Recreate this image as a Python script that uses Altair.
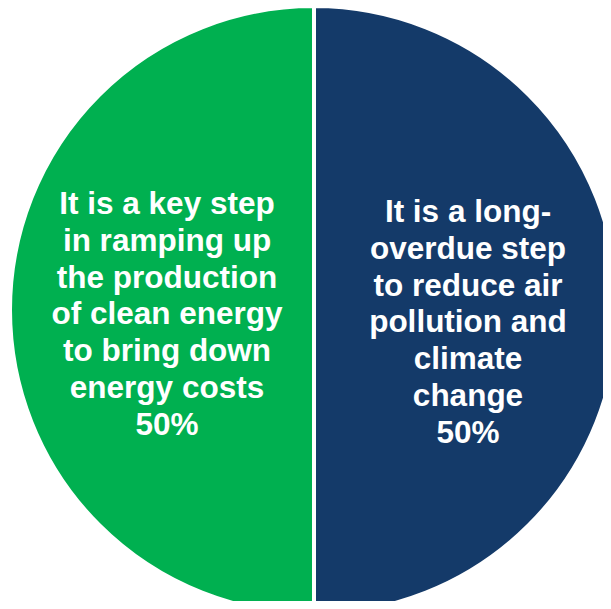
import altair as alt
import pandas as pd

labels = [
    "It is a long-\noverdue step\nto reduce air\npollution and\nclimate\nchange\n50%",
    "It is a key step\nin ramping up\nthe production\nof clean energy\nto bring down\nenergy costs\n50%",
]
categories = ["air pollution", "clean energy"]
values = [50, 50]
colors = ["#143A69", "#00B050"]

df = pd.DataFrame({"cat": categories, "value": values, "label": labels, "ord": [0, 1]})

CX, CY, R = 306, 302, 304

base = alt.Chart(df).encode(
    theta=alt.Theta("value:Q", stack=True),
    order=alt.Order("ord:Q"),
    x=alt.value(CX),
    y=alt.value(CY),
)

arcs = base.mark_arc(radius=R, stroke="white", strokeWidth=4).encode(
    color=alt.Color("cat:N", scale=alt.Scale(domain=categories, range=colors), legend=None)
)

text_style = dict(
    font="Liberation Sans",
    fontWeight="bold",
    fontSize=31.5,
    lineHeight=36.8,
    lineBreak="\n",
    color="white",
    align="center",
    baseline="alphabetic",
)

text_right = base.mark_text(radius=154, dy=-88, **text_style).encode(
    text="label:N", opacity=alt.condition(alt.datum.ord == 0, alt.value(1), alt.value(0))
)
text_left = base.mark_text(radius=147, dy=-96, **text_style).encode(
    text="label:N", opacity=alt.condition(alt.datum.ord == 1, alt.value(1), alt.value(0))
)

chart = (
    alt.layer(arcs, text_right, text_left)
    .properties(width=595, height=593, padding=0, autosize=alt.AutoSizeParams(type="none"))
    .configure_view(stroke=None)
)

chart.save("out.html", embed_options={"renderer": "svg", "actions": False})
